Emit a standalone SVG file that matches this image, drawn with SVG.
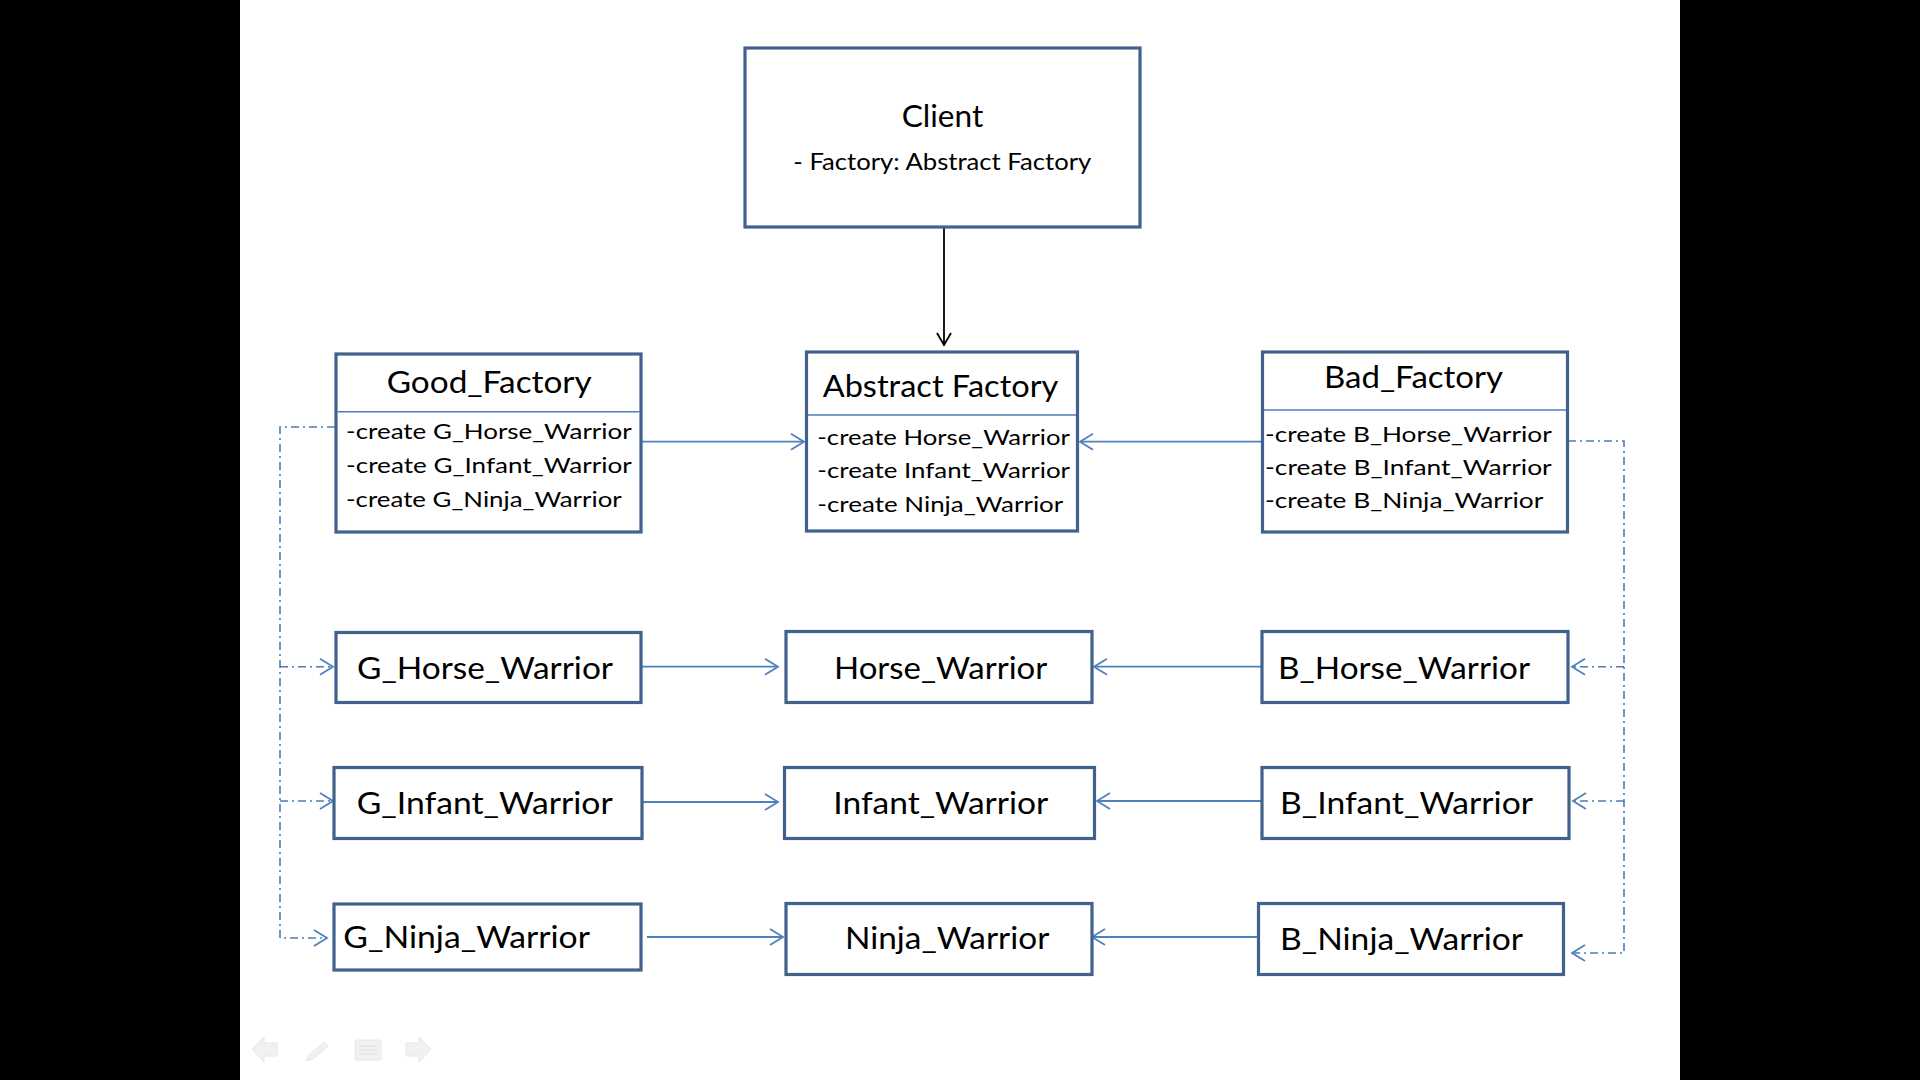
<svg xmlns="http://www.w3.org/2000/svg" width="1920" height="1080" viewBox="0 0 1920 1080">
  <style>
    .box { fill: #ffffff; stroke: #41628D; stroke-width: 3.2; }
    .div { stroke: #4F7DB5; stroke-width: 1.6; fill: none; }
    .t { font-family: Lato, "Open Sans", "Liberation Sans", sans-serif; fill: #000000; }
    .big { font-size: 31px; }
    .ttl { font-size: 30px; }
    .m { font-size: 22px; }
    .sub { font-size: 23px; }
    .con { stroke: #4F81BD; stroke-width: 1.8; fill: none; }
    .dash { stroke: #4F7BB0; stroke-width: 1.6; fill: none; stroke-dasharray: 8 4 2 4; }
    .blk { stroke: #000000; stroke-width: 1.8; fill: none; }
    .head { fill: none; stroke: #4F81BD; stroke-width: 1.8; stroke-dasharray: none; }
    .headk { fill: none; stroke: #000000; stroke-width: 1.8; }
    .icon { fill: #f1f1f1; stroke: #e6e6e6; stroke-width: 1; }
  </style>
  <defs>
    <marker id="arr" markerUnits="userSpaceOnUse" markerWidth="18" markerHeight="20" refX="14" refY="9" orient="auto" overflow="visible">
      <path class="head" d="M1,1 L14,9 L1,17"/>
    </marker>
    <marker id="arrk" markerUnits="userSpaceOnUse" markerWidth="18" markerHeight="20" refX="13" refY="8" orient="auto" overflow="visible">
      <path class="headk" d="M1,1 L13,8 L1,15"/>
    </marker>
  </defs>

  <rect x="0" y="0" width="1920" height="1080" fill="#ffffff"/>
  <rect x="0" y="0" width="240" height="1080" fill="#000000"/>
  <rect x="1680" y="0" width="240" height="1080" fill="#000000"/>

  <g id="connectors">
    <path class="blk" d="M944,228 L944,345" marker-end="url(#arrk)"/>
    <path class="con" d="M642,441.7 L804,441.7" marker-end="url(#arr)"/>
    <path class="con" d="M1262,441.7 L1080,441.7" marker-end="url(#arr)"/>
    <path class="con" d="M642,666.7 L778,666.7" marker-end="url(#arr)"/>
    <path class="con" d="M643,802 L778,802" marker-end="url(#arr)"/>
    <path class="con" d="M647,937 L783,937" marker-end="url(#arr)"/>
    <path class="con" d="M1261,666.7 L1094,666.7" marker-end="url(#arr)"/>
    <path class="con" d="M1265,801 L1097,801" marker-end="url(#arr)"/>
    <path class="con" d="M1257,937 L1092,937" marker-end="url(#arr)"/>
    <path class="dash" d="M335,427 H280 V938 H327" marker-end="url(#arr)"/>
    <path class="dash" d="M280,666.7 H333" marker-end="url(#arr)"/>
    <path class="dash" d="M280,801 H333" marker-end="url(#arr)"/>
    <path class="dash" d="M1568,441 H1624 V953 H1572" marker-end="url(#arr)"/>
    <path class="dash" d="M1624,666.7 H1572" marker-end="url(#arr)"/>
    <path class="dash" d="M1624,801 H1573" marker-end="url(#arr)"/>
  </g>

  <g id="client">
    <rect class="box" x="745" y="48" width="395" height="179"/>
    <text class="t big" x="901.7" y="127.3" textLength="81.6" lengthAdjust="spacingAndGlyphs">Client</text>
    <text class="t sub" x="793.3" y="170" textLength="298" lengthAdjust="spacingAndGlyphs">- Factory: Abstract Factory</text>
  </g>

  <g id="good_factory">
    <rect class="box" x="336" y="354" width="305" height="178"/>
    <line class="div" x1="337.6" y1="411.7" x2="639.4" y2="411.7"/>
    <text class="t ttl" x="386.7" y="393.3" textLength="205" lengthAdjust="spacingAndGlyphs">Good_Factory</text>
    <text class="t m" x="346" y="439.3" textLength="285.7" lengthAdjust="spacingAndGlyphs">-create G_Horse_Warrior</text>
    <text class="t m" x="346" y="473.3" textLength="285.7" lengthAdjust="spacingAndGlyphs">-create G_Infant_Warrior</text>
    <text class="t m" x="346" y="506.7" textLength="275.7" lengthAdjust="spacingAndGlyphs">-create G_Ninja_Warrior</text>
  </g>

  <g id="abstract_factory">
    <rect class="box" x="806.5" y="352" width="271" height="179"/>
    <line class="div" x1="808" y1="415" x2="1076" y2="415"/>
    <text class="t ttl" x="822.7" y="397.3" textLength="235.6" lengthAdjust="spacingAndGlyphs">Abstract Factory</text>
    <text class="t m" x="817.3" y="445" textLength="252.7" lengthAdjust="spacingAndGlyphs">-create Horse_Warrior</text>
    <text class="t m" x="817.3" y="478.3" textLength="252.7" lengthAdjust="spacingAndGlyphs">-create Infant_Warrior</text>
    <text class="t m" x="817.3" y="511.7" textLength="246" lengthAdjust="spacingAndGlyphs">-create Ninja_Warrior</text>
  </g>

  <g id="bad_factory">
    <rect class="box" x="1262.5" y="352" width="305" height="180"/>
    <line class="div" x1="1264" y1="410" x2="1566" y2="410"/>
    <text class="t ttl" x="1324" y="388.3" textLength="179" lengthAdjust="spacingAndGlyphs">Bad_Factory</text>
    <text class="t m" x="1265" y="441.7" textLength="286.7" lengthAdjust="spacingAndGlyphs">-create B_Horse_Warrior</text>
    <text class="t m" x="1265" y="475" textLength="286.7" lengthAdjust="spacingAndGlyphs">-create B_Infant_Warrior</text>
    <text class="t m" x="1265" y="508.3" textLength="278.3" lengthAdjust="spacingAndGlyphs">-create B_Ninja_Warrior</text>
  </g>

  <g id="g_horse_warrior">
    <rect class="box" x="336" y="632.5" width="305" height="70"/>
    <text class="t big" x="357" y="679" textLength="256" lengthAdjust="spacingAndGlyphs">G_Horse_Warrior</text>
  </g>
  <g id="g_infant_warrior">
    <rect class="box" x="334" y="767.5" width="308" height="71"/>
    <text class="t big" x="356.7" y="814" textLength="256" lengthAdjust="spacingAndGlyphs">G_Infant_Warrior</text>
  </g>
  <g id="g_ninja_warrior">
    <rect class="box" x="334" y="904" width="307" height="66"/>
    <text class="t big" x="343.3" y="948.3" textLength="246.7" lengthAdjust="spacingAndGlyphs">G_Ninja_Warrior</text>
  </g>

  <g id="horse_warrior">
    <rect class="box" x="786" y="631.5" width="306" height="71"/>
    <text class="t big" x="834" y="679.3" textLength="213.3" lengthAdjust="spacingAndGlyphs">Horse_Warrior</text>
  </g>
  <g id="infant_warrior">
    <rect class="box" x="784.5" y="767.5" width="310" height="71"/>
    <text class="t big" x="833.3" y="814" textLength="215" lengthAdjust="spacingAndGlyphs">Infant_Warrior</text>
  </g>
  <g id="ninja_warrior">
    <rect class="box" x="786" y="903.5" width="306" height="71"/>
    <text class="t big" x="845" y="949.3" textLength="204.3" lengthAdjust="spacingAndGlyphs">Ninja_Warrior</text>
  </g>

  <g id="b_horse_warrior">
    <rect class="box" x="1262" y="631.5" width="306" height="71"/>
    <text class="t big" x="1278" y="679.3" textLength="252" lengthAdjust="spacingAndGlyphs">B_Horse_Warrior</text>
  </g>
  <g id="b_infant_warrior">
    <rect class="box" x="1262" y="767.5" width="307" height="71"/>
    <text class="t big" x="1280" y="814" textLength="253" lengthAdjust="spacingAndGlyphs">B_Infant_Warrior</text>
  </g>
  <g id="b_ninja_warrior">
    <rect class="box" x="1258.5" y="903.5" width="305" height="71"/>
    <text class="t big" x="1280" y="950" textLength="243" lengthAdjust="spacingAndGlyphs">B_Ninja_Warrior</text>
  </g>

  <g id="slide_controls">
    <path class="icon" d="M252,1049 L264,1037 L264,1043 L277,1043 L277,1056 L264,1056 L264,1062 Z"/>
    <path class="icon" d="M306,1061 L309,1055 L324,1042 L328,1046 L313,1059 Z"/>
    <rect class="icon" x="355" y="1040" width="26" height="20" rx="2"/>
    <path d="M359,1046 H377 M359,1050 H377 M359,1054 H377" stroke="#e2e2e2" stroke-width="1.5" fill="none"/>
    <path class="icon" d="M431,1049 L419,1037 L419,1043 L406,1043 L406,1056 L419,1056 L419,1062 Z"/>
  </g>
</svg>
